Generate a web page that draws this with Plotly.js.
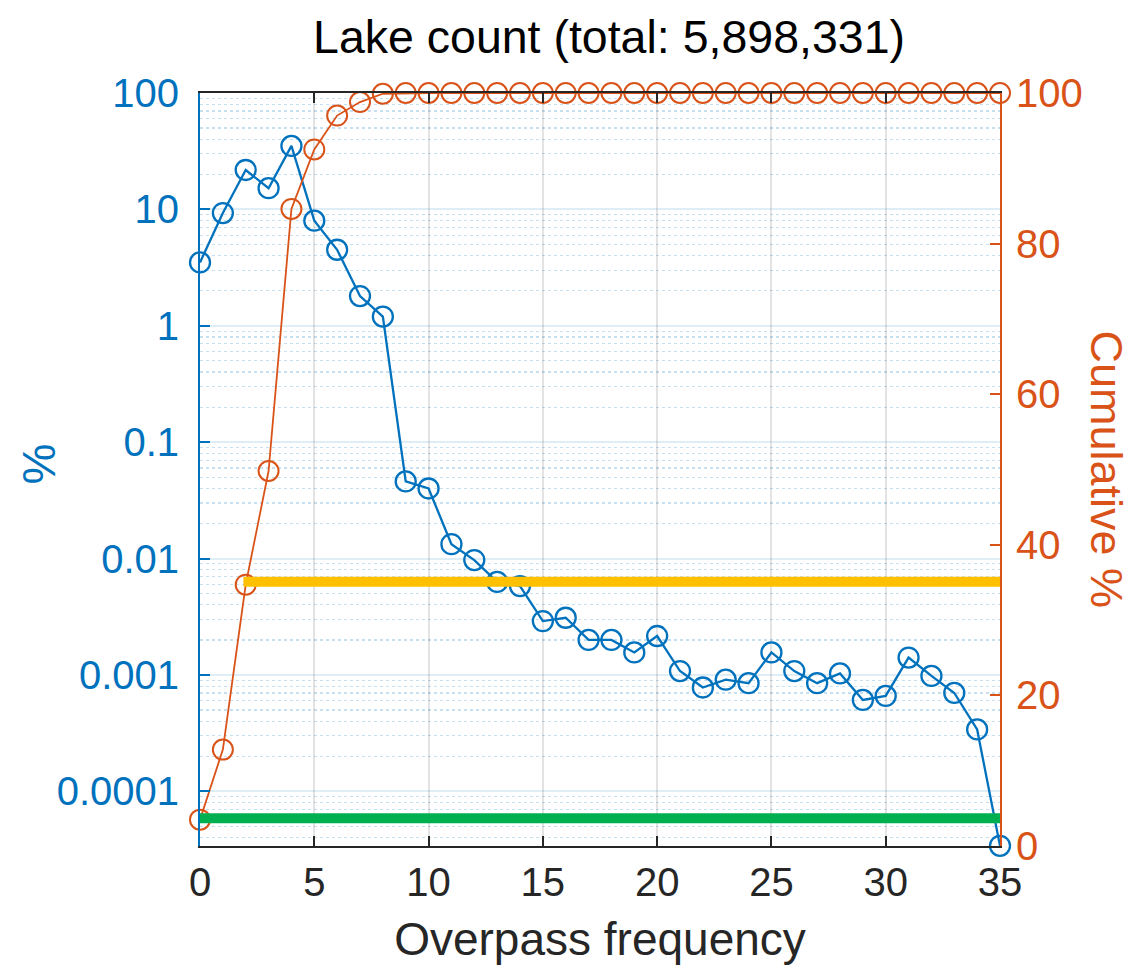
<!DOCTYPE html>
<html>
<head>
<meta charset="utf-8">
<script src="https://cdn.plot.ly/plotly-3.0.1.min.js"></script>
<style>
  html, body { margin: 0; padding: 0; background: #fff; }
  #chart { width: 1132px; height: 977px; }
</style>
</head>
<body>
<div id="chart"></div>
<script>
// Overpass frequency (number of overpasses per lake)
const overpassFreq = [0, 1, 2, 3, 4, 5, 6, 7, 8, 9, 10, 11, 12, 13, 14, 15, 16, 17,
  18, 19, 20, 21, 22, 23, 24, 25, 26, 27, 28, 29, 30, 31, 32, 33, 34, 35];

// Share of lakes (%) at each overpass frequency
const lakePct = [3.5, 9.3, 21.8, 15.2, 35.1, 8.0, 4.5, 1.8, 1.2, 0.046, 0.040,
  0.0133, 0.0097, 0.0063, 0.0058, 0.0029, 0.0031, 0.0020, 0.0020, 0.00156,
  0.00216, 0.00108, 0.00078, 0.00091, 0.00085, 0.00156, 0.00108, 0.00085,
  0.00103, 0.00061, 0.00066, 0.00141, 0.00098, 0.00070, 0.00034, 0.000034];

// Cumulative share of lakes (%)
const cumulativePct = [3.5, 12.8, 34.7, 49.8, 84.6, 92.5, 97.0, 98.8, 99.9, 100,
  100, 100, 100, 100, 100, 100, 100, 100, 100, 100, 100, 100, 100, 100, 100,
  100, 100, 100, 100, 100, 100, 100, 100, 100, 100, 100];

// Tick labels
const pctTickVals = [0.0001, 0.001, 0.01, 0.1, 1, 10, 100];
const pctTickText = ['0.0001', '0.001', '0.01', '0.1', '1', '10', '100'];
const cumTickVals = [0, 20, 40, 60, 80, 100];
const freqTickVals = [0, 5, 10, 15, 20, 25, 30, 35];

// Highlighted cumulative levels (%), with the frequency where each band starts
const bandLevels = [35.1, 3.7];
const bandStart = [1.9, -0.2];
const bandEnd = [35, 35];
const bandColors = ['#FFC000', '#00B050'];

const BLUE = '#0072BD';
const ORANGE = '#D95319';
const DARK = '#262626';
const FONT = 'Liberation Sans, Arial, sans-serif';

// Minor grid positions (2..9 of every decade) for the log axis
const minorVals = [];
for (let e = -5; e <= 2; e++) {
  for (let m = 2; m <= 9; m++) minorVals.push(m * Math.pow(10, e));
}

const traces = [
  {
    x: overpassFreq, y: lakePct, yaxis: 'y', type: 'scatter', mode: 'lines+markers',
    line: { color: BLUE, width: 2.3 },
    marker: { symbol: 'circle-open', size: 20, color: BLUE, line: { width: 2.3, color: BLUE } },
    cliponaxis: false, showlegend: false, hoverinfo: 'x+y'
  },
  {
    x: overpassFreq, y: cumulativePct, yaxis: 'y2', type: 'scatter', mode: 'lines+markers',
    line: { color: ORANGE, width: 1.8 },
    marker: { symbol: 'circle-open', size: 20, color: ORANGE, line: { width: 2, color: ORANGE } },
    cliponaxis: false, showlegend: false, hoverinfo: 'x+y'
  }
];

const shapes = bandLevels.map((lvl, i) => ({
  type: 'line', xref: 'x', yref: 'y2', layer: 'above',
  x0: bandStart[i], x1: bandEnd[i], y0: lvl, y1: lvl,
  line: { color: bandColors[i], width: 10 }
}));

const layout = {
  width: 1132, height: 977,
  margin: { l: 200, r: 132, t: 93, b: 131 },
  paper_bgcolor: '#ffffff', plot_bgcolor: '#ffffff',
  font: { family: FONT, size: 40, color: DARK },
  title: {
    text: 'Lake count (total: 5,898,331)',
    font: { family: FONT, size: 46.5, color: '#000000' },
    x: 0.538, xanchor: 'center', y: 0.962, yanchor: 'middle'
  },
  xaxis: {
    range: [0, 35], tickvals: freqTickVals, ticks: 'inside', ticklen: 10, tickwidth: 2,
    tickcolor: DARK, showline: true, linecolor: DARK, linewidth: 2, mirror: 'ticks',
    showgrid: true, gridcolor: 'rgba(38,38,38,0.13)', gridwidth: 2, zeroline: false,
    tickfont: { family: FONT, size: 40, color: DARK },
    title: { text: 'Overpass frequency', font: { family: FONT, size: 46, color: DARK }, standoff: 20 }
  },
  yaxis: {
    type: 'log', range: [Math.log10(3.39e-5), 2],
    tickmode: 'array', tickvals: pctTickVals, ticktext: pctTickText,
    ticks: 'inside', ticklen: 10, tickwidth: 2, tickcolor: BLUE,
    showline: true, linecolor: BLUE, linewidth: 2, zeroline: false,
    showgrid: true, gridcolor: 'rgba(0,114,189,0.13)', gridwidth: 2,
    minor: { tickmode: 'array', tickvals: minorVals, showgrid: true, griddash: 'dot',
      gridcolor: 'rgba(0,114,189,0.22)', gridwidth: 1.2, ticks: '' },
    ticklabelstandoff: 11,
    tickfont: { family: FONT, size: 40, color: BLUE }
  },
  yaxis2: {
    overlaying: 'y', side: 'right', range: [0, 100], tickvals: cumTickVals,
    ticks: 'inside', ticklen: 10, tickwidth: 2, tickcolor: ORANGE,
    showline: true, linecolor: ORANGE, linewidth: 2, zeroline: false, showgrid: false,
    ticklabelstandoff: 6,
    tickfont: { family: FONT, size: 40, color: ORANGE }
  },
  shapes: shapes,
  annotations: [
    {
      text: '%', xref: 'paper', yref: 'paper', x: 0, y: 0.5,
      xanchor: 'center', yanchor: 'middle', xshift: -162, yshift: 5, textangle: -90, showarrow: false,
      font: { family: FONT, size: 46, color: BLUE }
    },
    {
      text: 'Cumulative %', xref: 'paper', yref: 'paper', x: 1, y: 0.5,
      xanchor: 'center', yanchor: 'middle', xshift: 106, textangle: 90, showarrow: false,
      font: { family: FONT, size: 45, color: ORANGE }
    }
  ]
};

Plotly.newPlot('chart', traces, layout, { displayModeBar: false, staticPlot: true });
</script>
</body>
</html>
